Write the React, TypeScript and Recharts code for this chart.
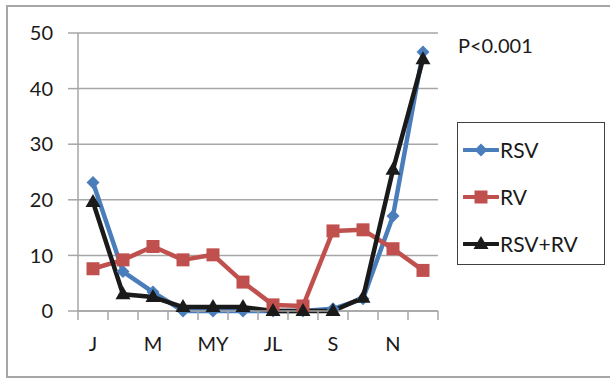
import { LineChart, Line, XAxis, YAxis, CartesianGrid } from "recharts";

// monthly share (%) per virus group
const months = ["J", "F", "M", "A", "MY", "JN", "JL", "AG", "S", "O", "N", "D"];
const rsv = [23.1, 7.1, 3.4, 0, 0, 0, 0, 0, 0.4, 2.2, 17.1, 46.6];
const rv = [7.6, 9.2, 11.6, 9.2, 10.1, 5.2, 1.1, 0.9, 14.4, 14.6, 11.2, 7.3];
const rsvRv = [19.6, 3.0, 2.5, 0.7, 0.7, 0.7, 0, 0, 0, 2.4, 25.4, 45.3];
const seriesNames = ["RSV", "RV", "RSV+RV"];
const yTicks = [0, 10, 20, 30, 40, 50];
const pValue = "P<0.001";

const data = months.map((m, i) => ({
    month: m,
    RSV: rsv[i],
    RV: rv[i],
    "RSV+RV": rsvRv[i],
}));

const FONT = "Lato, 'Open Sans', sans-serif";
const AXIS = "#a6a6a6";
const HALF_BAND = 15;

const colors: Record<string, string> = {
    RSV: "#4a7ebb",
    RV: "#c0504d",
    "RSV+RV": "#1a1a1a",
};

const Marker = ({ kind, cx, cy, color }: any) => {
    if (cx == null || cy == null) return null;
    if (kind === "RSV") {
        const r = 6.5;
        return <polygon points={`${cx},${cy - r} ${cx + r},${cy} ${cx},${cy + r} ${cx - r},${cy}`} fill={color} />;
    }
    if (kind === "RV") {
        return <rect x={cx - 6.5} y={cy - 6.5} width={13} height={13} fill={color} />;
    }
    return <polygon points={`${cx},${cy - 8} ${cx + 7.5},${cy + 5} ${cx - 7.5},${cy + 5}`} fill={color} />;
};

// category ticks sit between months; only every other month gets a label
const MonthTick = (props: any) => {
    const { x, y, payload } = props;
    const index = props.index ?? payload.index;
    const last = index === months.length - 1;
    return (
        <g>
            <line x1={x - HALF_BAND} x2={x - HALF_BAND} y1={y} y2={y + 9} stroke={AXIS} strokeWidth={1.5} />
            {last && <line x1={x + HALF_BAND} x2={x + HALF_BAND} y1={y} y2={y + 9} stroke={AXIS} strokeWidth={1.5} />}
            {index % 2 === 0 && (
                <text x={x} y={y + 35} textAnchor="middle" dominantBaseline="middle" fill="#1a1a1a" fontSize={20} fontFamily={FONT}>
                    {payload.value}
                </text>
            )}
        </g>
    );
};

const LegendIcon = ({ name }: { name: string }) => (
    <svg width={36} height={16} style={{ display: "block" }}>
        <line x1={1} x2={35} y1={8} y2={8} stroke={colors[name]} strokeWidth={4} strokeLinecap="round" />
        <Marker kind={name} cx={18} cy={8} color={colors[name]} />
    </svg>
);

export default function App() {
    return (
        <div style={{ position: "absolute", left: 0, top: 0, width: 610, height: 379, background: "#fff", overflow: "hidden", fontFamily: FONT }}>
            <div style={{
                position: "absolute",
                left: 6,
                top: 5,
                width: 640,
                height: 373,
                boxSizing: "border-box",
                border: `2px solid ${AXIS}`,
            }} />
            <LineChart
                width={610}
                height={379}
                data={data}
                margin={{ top: 33, right: 172, left: 0, bottom: 0 }}
                style={{ position: "absolute", left: 0, top: 0 }}
            >
                <CartesianGrid vertical={false} stroke={AXIS} strokeWidth={1.5} />
                <XAxis
                    dataKey="month"
                    interval={0}
                    padding={{ left: HALF_BAND, right: HALF_BAND }}
                    height={68}
                    tickSize={0}
                    tickMargin={0}
                    tickLine={false}
                    axisLine={{ stroke: AXIS, strokeWidth: 1.5 }}
                    tick={<MonthTick />}
                />
                <YAxis
                    width={78}
                    domain={[0, 50]}
                    ticks={yTicks}
                    interval={0}
                    tickSize={10}
                    tickMargin={15}
                    axisLine={{ stroke: AXIS, strokeWidth: 1.5 }}
                    tickLine={{ stroke: AXIS, strokeWidth: 1.5 }}
                    tick={{ fontSize: 20, fill: "#1a1a1a", fontFamily: FONT }}
                />
                {seriesNames.map((name) => (
                    <Line
                        key={name}
                        dataKey={name}
                        type="linear"
                        stroke={colors[name]}
                        strokeWidth={4.5}
                        strokeLinejoin="round"
                        dot={(p: any) => <Marker key={`${name}-${p.index}`} kind={name} cx={p.cx} cy={p.cy} color={colors[name]} />}
                        activeDot={false}
                        isAnimationActive={false}
                    />
                ))}
            </LineChart>
            <div style={{ position: "absolute", left: 458, top: 30, fontSize: 20, color: "#1a1a1a", lineHeight: "30px" }}>
                {pValue}
            </div>
            <div style={{
                position: "absolute",
                left: 457,
                top: 122,
                width: 148,
                height: 143,
                boxSizing: "border-box",
                border: "1.5px solid #404040",
                padding: "3px 0 0 5px",
            }}>
                {seriesNames.map((name) => (
                    <div key={name} style={{ display: "flex", alignItems: "center", height: 47, fontSize: 21, color: "#1a1a1a" }}>
                        <LegendIcon name={name} />
                        <span style={{ marginLeft: 1 }}>{name}</span>
                    </div>
                ))}
            </div>
        </div>
    );
}
